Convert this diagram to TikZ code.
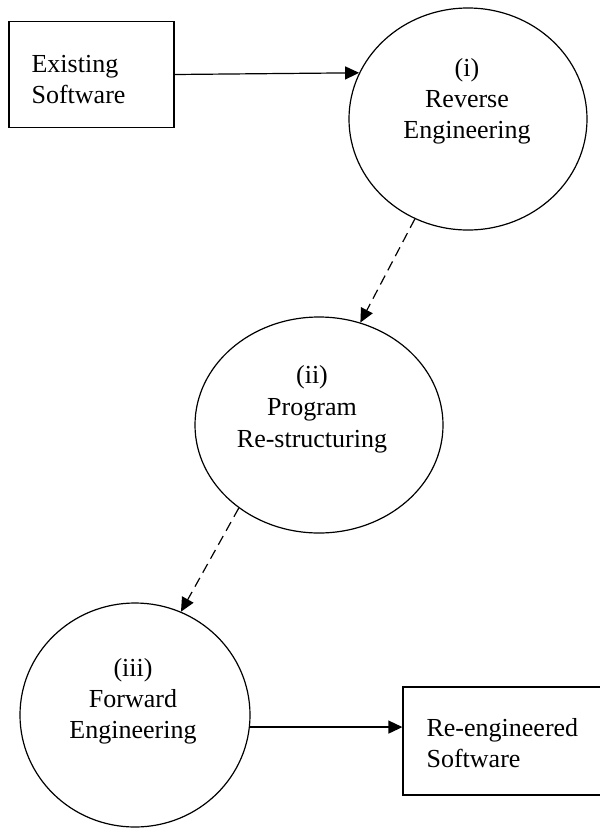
\documentclass[tikz,border=0pt]{standalone}
\usepackage{fontspec}
\setmainfont{Liberation Serif}
\usetikzlibrary{shapes.geometric,arrows.meta}
\begin{document}
\begin{tikzpicture}[x=1pt,y=-1pt,
  line width=1.2pt,
  boxnode/.style={draw, rectangle, inner sep=0pt},
  ellnode/.style={draw, ellipse, inner sep=0pt},
  txt/.style={inner sep=0pt, font=\fontsize{26}{31}\selectfont},
  arr/.style={-{Triangle[length=14pt,width=13pt]}},
  dasharr/.style={arr, dash pattern=on 10pt off 6pt}]
\useasboundingbox (0,0) rectangle (600,828);
\clip (0,0) rectangle (600,828);
% shapes
\node[boxnode, minimum width=165pt, minimum height=106pt] (box1) at (91.5,74.5) {};
\node[ellnode, minimum width=238pt, minimum height=222pt] (e1) at (468,119) {};
\node[ellnode, minimum width=248pt, minimum height=216pt] (e2) at (319,425) {};
\node[ellnode, minimum width=230pt, minimum height=224pt] (e3) at (135,715) {};
\node[boxnode, minimum width=207pt, minimum height=108pt] (box2) at (506.5,741) {};
% texts (base anchor = last line's baseline)
\node[txt, anchor=base west, align=left] (t1) at (31,103) {Existing\\Software};
\node[txt, anchor=base, align=center] (ti) at (467,138) {(i)\\Reverse\\Engineering};
\node[txt, anchor=base, align=center, font=\fontsize{26}{32}\selectfont] (tii) at (312,447) {(ii)\\Program\\Re-structuring};
\node[txt, anchor=base, align=center] (tiii) at (133,738) {(iii)\\Forward\\Engineering};
\node[txt, anchor=base west, align=left] (t2) at (426,767) {Re-engineered\\Software};
% connectors
\draw[arr] (box1.east) -- (e1.157.6);
\draw[dasharr] (e1.242) -- (e2.68);
\draw[dasharr] (e2.226) -- (e3.66);
\draw[arr] (e3.-6.5) -- (e3.-6.5 -| box2.west);
\end{tikzpicture}
\end{document}
